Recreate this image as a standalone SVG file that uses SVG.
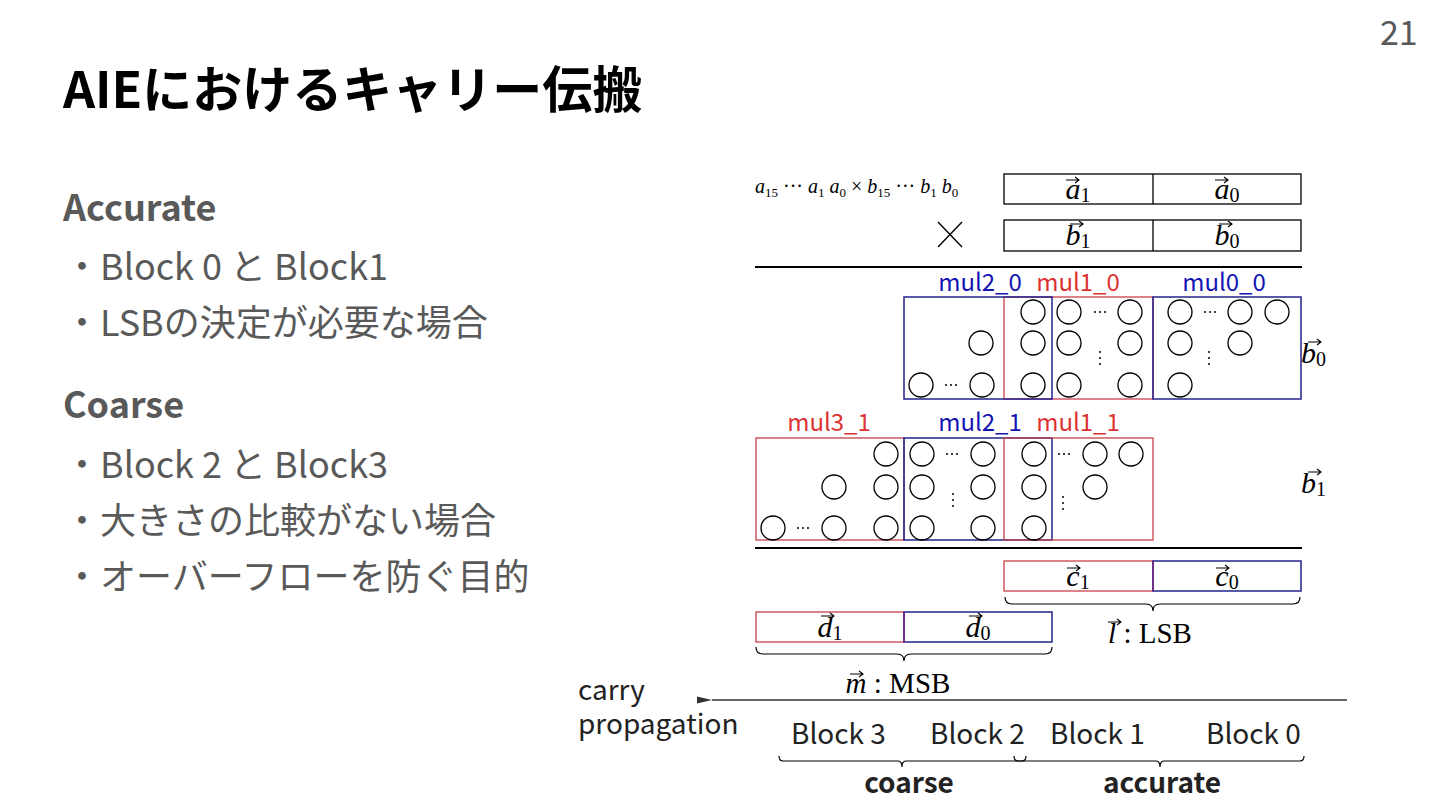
<svg xmlns="http://www.w3.org/2000/svg" width="1440" height="810" viewBox="0 0 1440 810">
<style>
.sans{font-family:"Noto Sans CJK JP","Noto Sans",sans-serif}
.math{font-family:"Liberation Serif","DejaVu Serif",serif;fill:#000}
.mi{font-style:italic}
.title{font-size:50px;font-weight:bold;fill:#000}
.head{font-size:36px;font-weight:bold;fill:#595959}
.item{font-size:36px;fill:#595959}
.lbl{font-size:24px}
.blueT{fill:#1414b4}
.redT{fill:#dc3232}
.box{fill:none;stroke:#000;stroke-width:1.3}
.bbox{fill:none;stroke:#23238f;stroke-width:1.5}
.rbox{fill:none;stroke:#c8404c;stroke-width:1.3}
.c{fill:none;stroke:#000;stroke-width:1.3}
.rule{stroke:#000;stroke-width:2}
.brace{fill:none;stroke:#000;stroke-width:1.2}
.blk{font-size:28px;fill:#222}
.vec{fill:none;stroke:#000;stroke-width:1.1}
.m30{font-size:30px}
.sub{font-size:20px}
</style>
<defs>
<path id="vec" d="M0,0 H13 M9,-3 L13,0 L9,3" class="vec"/>
<marker id="ah" markerWidth="16" markerHeight="10" refX="1" refY="5" orient="auto" markerUnits="userSpaceOnUse">
<path d="M16,1.5 L1,5 L16,8.5 Z" fill="#333"/>
</marker>
</defs>
<rect width="1440" height="810" fill="#fff"/>

<g id="title">
<text class="sans title" x="63" y="108">AIEにおけるキャリー伝搬</text>
<text class="sans" x="1380" y="45" font-size="34" fill="#595959">21</text>
</g>

<g id="left-text" class="sans">
<text class="head" x="63" y="221">Accurate</text>
<text class="item" x="64" y="280">・Block 0 と Block1</text>
<text class="item" x="64" y="336">・LSBの決定が必要な場合</text>
<text class="head" x="63" y="418">Coarse</text>
<text class="item" x="64" y="478">・Block 2 と Block3</text>
<text class="item" x="64" y="534">・大きさの比較がない場合</text>
<text class="item" x="64" y="590">・オーバーフローを防ぐ目的</text>
</g>

<g id="operands">
<text class="math mi" x="755" y="193" font-size="20">a<tspan font-size="13" dy="4" font-style="normal">15</tspan><tspan dy="-4" font-style="normal"> ··· </tspan>a<tspan font-size="13" dy="4" font-style="normal">1</tspan><tspan dy="-4"> a</tspan><tspan font-size="13" dy="4" font-style="normal">0</tspan><tspan dy="-4" font-style="normal"> × </tspan>b<tspan font-size="13" dy="4" font-style="normal">15</tspan><tspan dy="-4" font-style="normal"> ··· </tspan>b<tspan font-size="13" dy="4" font-style="normal">1</tspan><tspan dy="-4"> b</tspan><tspan font-size="13" dy="4" font-style="normal">0</tspan></text>
<rect class="box" x="1004" y="174" width="297" height="30"/>
<line class="box" x1="1153" y1="174" x2="1153" y2="204"/>
<text class="math m30" x="1078" y="199" text-anchor="middle"><tspan class="mi">a</tspan><tspan class="sub" dy="3">1</tspan></text>
<use href="#vec" x="1066" y="180"/>
<text class="math m30" x="1227" y="199" text-anchor="middle"><tspan class="mi">a</tspan><tspan class="sub" dy="3">0</tspan></text>
<use href="#vec" x="1215" y="180"/>
<line x1="938" y1="222" x2="962" y2="247" stroke="#000" stroke-width="1.4"/>
<line x1="962" y1="222" x2="938" y2="247" stroke="#000" stroke-width="1.4"/>
<rect class="box" x="1004" y="220" width="297" height="31"/>
<line class="box" x1="1153" y1="220" x2="1153" y2="251"/>
<text class="math m30" x="1078" y="245" text-anchor="middle"><tspan class="mi">b</tspan><tspan class="sub" dy="3">1</tspan></text>
<use href="#vec" x="1070" y="224"/>
<text class="math m30" x="1227" y="245" text-anchor="middle"><tspan class="mi">b</tspan><tspan class="sub" dy="3">0</tspan></text>
<use href="#vec" x="1219" y="224"/>
<line class="rule" x1="755" y1="267" x2="1302" y2="267"/>
</g>

<g id="partial-b0">
<text class="sans lbl blueT" x="980" y="291" text-anchor="middle">mul2_0</text>
<text class="sans lbl redT" x="1078" y="291" text-anchor="middle">mul1_0</text>
<text class="sans lbl blueT" x="1224" y="291" text-anchor="middle">mul0_0</text>
<rect class="rbox" x="1004" y="297" width="149" height="102"/>
<rect class="bbox" x="904" y="297" width="148" height="102"/>
<rect class="bbox" x="1153" y="297" width="148" height="102"/>
<g class="c">
<circle cx="1033" cy="312" r="12"/><circle cx="1069" cy="312" r="12"/><circle cx="1130" cy="312" r="12"/><circle cx="1180" cy="312" r="12"/><circle cx="1240" cy="312" r="12"/><circle cx="1277" cy="312" r="12"/>
<circle cx="981" cy="343" r="12"/><circle cx="1033" cy="343" r="12"/><circle cx="1069" cy="343" r="12"/><circle cx="1130" cy="343" r="12"/><circle cx="1180" cy="343" r="12"/><circle cx="1240" cy="343" r="12"/>
<circle cx="921" cy="385" r="12"/><circle cx="982" cy="385" r="12"/><circle cx="1033" cy="385" r="12"/><circle cx="1069" cy="385" r="12"/><circle cx="1130" cy="385" r="12"/><circle cx="1180" cy="385" r="12"/>
</g>
<g fill="#000">
<circle cx="1095" cy="312" r="1"/><circle cx="1100" cy="312" r="1"/><circle cx="1105" cy="312" r="1"/>
<circle cx="1205" cy="312" r="1"/><circle cx="1210" cy="312" r="1"/><circle cx="1215" cy="312" r="1"/>
<circle cx="946" cy="385" r="1"/><circle cx="951" cy="385" r="1"/><circle cx="956" cy="385" r="1"/>
<circle cx="1100" cy="352" r="1"/><circle cx="1100" cy="358" r="1"/><circle cx="1100" cy="364" r="1"/>
<circle cx="1209" cy="352" r="1"/><circle cx="1209" cy="358" r="1"/><circle cx="1209" cy="364" r="1"/>
</g>
<text class="math m30" x="1301" y="363"><tspan class="mi">b</tspan><tspan class="sub" dy="3">0</tspan></text>
<use href="#vec" x="1308" y="342"/>
</g>

<g id="partial-b1">
<text class="sans lbl redT" x="829" y="431" text-anchor="middle">mul3_1</text>
<text class="sans lbl blueT" x="980" y="431" text-anchor="middle">mul2_1</text>
<text class="sans lbl redT" x="1078" y="431" text-anchor="middle">mul1_1</text>
<rect class="rbox" x="756" y="438" width="148" height="102"/>
<rect class="bbox" x="904" y="438" width="148" height="102"/>
<rect class="rbox" x="1004" y="438" width="149" height="102"/>
<g class="c">
<circle cx="886" cy="454" r="12"/><circle cx="922" cy="454" r="12"/><circle cx="983" cy="454" r="12"/><circle cx="1034" cy="454" r="12"/><circle cx="1095" cy="454" r="12"/><circle cx="1131" cy="454" r="12"/>
<circle cx="834" cy="487" r="12"/><circle cx="886" cy="487" r="12"/><circle cx="922" cy="487" r="12"/><circle cx="983" cy="487" r="12"/><circle cx="1034" cy="487" r="12"/><circle cx="1095" cy="487" r="12"/>
<circle cx="773" cy="528" r="12"/><circle cx="834" cy="528" r="12"/><circle cx="886" cy="528" r="12"/><circle cx="922" cy="528" r="12"/><circle cx="983" cy="528" r="12"/><circle cx="1034" cy="528" r="12"/>
</g>
<g fill="#000">
<circle cx="798" cy="528" r="1"/><circle cx="803" cy="528" r="1"/><circle cx="808" cy="528" r="1"/>
<circle cx="947" cy="454" r="1"/><circle cx="952" cy="454" r="1"/><circle cx="957" cy="454" r="1"/>
<circle cx="1059" cy="454" r="1"/><circle cx="1064" cy="454" r="1"/><circle cx="1069" cy="454" r="1"/>
<circle cx="953" cy="494" r="1"/><circle cx="953" cy="500" r="1"/><circle cx="953" cy="506" r="1"/>
<circle cx="1063" cy="497" r="1"/><circle cx="1063" cy="503" r="1"/><circle cx="1063" cy="509" r="1"/>
</g>
<text class="math m30" x="1301" y="493"><tspan class="mi">b</tspan><tspan class="sub" dy="3">1</tspan></text>
<use href="#vec" x="1308" y="472"/>
<line class="rule" x1="755" y1="548" x2="1302" y2="548"/>
</g>

<g id="result-l">
<rect class="rbox" x="1004" y="561" width="149" height="30"/>
<rect class="bbox" x="1153" y="561" width="148" height="30"/>
<line x1="1153" y1="561" x2="1153" y2="591" stroke="#7a2a8a" stroke-width="1.5"/>
<text class="math m30" x="1078" y="586" text-anchor="middle"><tspan class="mi">c</tspan><tspan class="sub" dy="3">1</tspan></text>
<use href="#vec" x="1067" y="568"/>
<text class="math m30" x="1227" y="586" text-anchor="middle"><tspan class="mi">c</tspan><tspan class="sub" dy="3">0</tspan></text>
<use href="#vec" x="1216" y="568"/>
<text class="math" x="1150" y="643" text-anchor="middle" font-size="29"><tspan class="mi">l</tspan> : LSB</text>
<use href="#vec" x="1108" y="622"/>
</g>

<g id="result-m">
<rect class="rbox" x="756" y="612" width="148" height="30"/>
<rect class="bbox" x="904" y="612" width="148" height="30"/>
<line x1="904" y1="612" x2="904" y2="642" stroke="#7a2a8a" stroke-width="1.3"/>
<text class="math m30" x="830" y="637" text-anchor="middle"><tspan class="mi">d</tspan><tspan class="sub" dy="3">1</tspan></text>
<use href="#vec" x="821" y="616"/>
<text class="math m30" x="978" y="637" text-anchor="middle"><tspan class="mi">d</tspan><tspan class="sub" dy="3">0</tspan></text>
<use href="#vec" x="969" y="616"/>
<text class="math" x="898" y="693" text-anchor="middle" font-size="29"><tspan class="mi">m</tspan> : MSB</text>
<use href="#vec" x="850" y="674"/>
</g>

<g id="connectors">
<path class="brace" d="M1005,597 Q1005,604 1012,604 L1146,604 Q1153,604 1153,611 Q1153,604 1160,604 L1293,604 Q1300,604 1300,597"/>
<path class="brace" d="M756,647 Q756,654 763,654 L897,654 Q904,654 904,661 Q904,654 911,654 L1045,654 Q1052,654 1052,647"/>
<line x1="1347" y1="700" x2="712" y2="700" stroke="#333" stroke-width="1.5" marker-end="url(#ah)"/>
<path class="brace" d="M779,756 Q779,761 783,761 L898,761 Q902,761 902,767 Q902,761 906,761 L1022,761 Q1026,761 1026,756"/>
<path class="brace" d="M1014,756 Q1014,761 1018,761 L1156,761 Q1160,761 1160,767 Q1160,761 1164,761 L1300,761 Q1304,761 1304,756"/>
</g>

<g id="blocks" class="sans">
<text class="blk"><tspan x="578" y="700">carry</tspan><tspan x="578" y="734">propagation</tspan></text>
<text class="blk" x="791" y="744">Block 3</text>
<text class="blk" x="930" y="744">Block 2</text>
<text class="blk" x="1050" y="744">Block 1</text>
<text class="blk" x="1206" y="744">Block 0</text>
<text class="blk" x="909" y="793" text-anchor="middle" font-weight="bold" fill="#111">coarse</text>
<text class="blk" x="1162" y="793" text-anchor="middle" font-weight="bold" fill="#111">accurate</text>
</g>
</svg>
